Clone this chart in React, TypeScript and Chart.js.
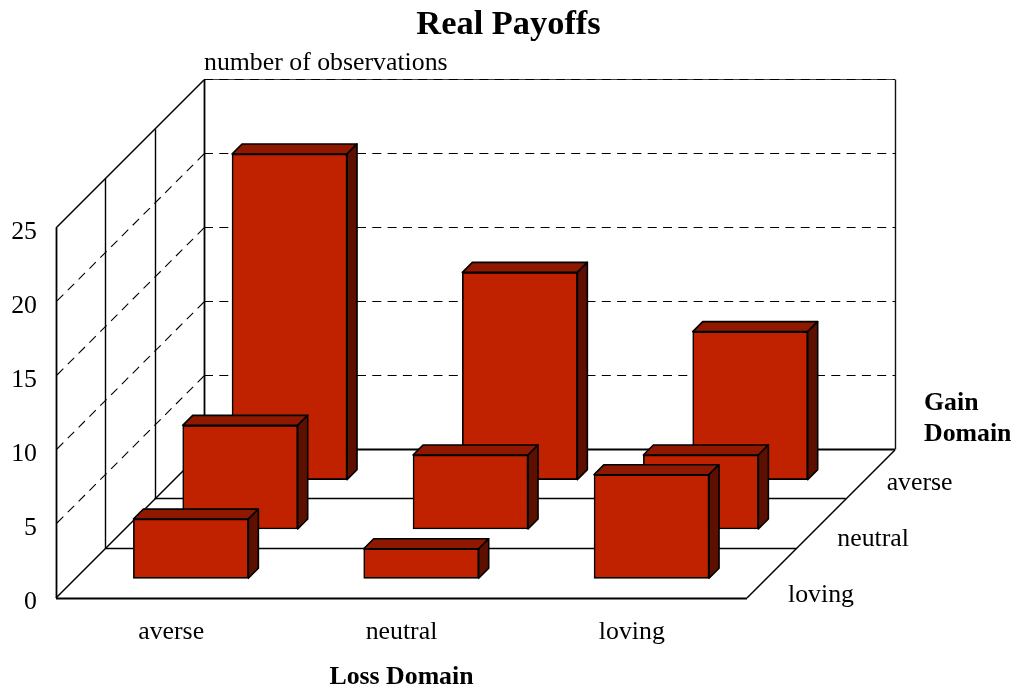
import React, { useEffect, useRef } from "react";
import { Chart, registerables } from "chart.js";

Chart.register(...registerables);

const lossCategories = ["averse", "neutral", "loving"];
const gainCategories = ["loving", "neutral", "averse"];
const lovingRow = [4, 2, 7];
const neutralRow = [7, 5, 5];
const averseRow = [22, 14, 10];
const yTicksMax = 25;
const yTickStep = 5;

const SERIF = "'Liberation Serif', 'Times New Roman', serif";
const FRONT = "#c02200";
const TOP = "#8f1800";
const SIDE = "#5e1000";
const ROW_DEPTH = 49.33;
const BAR_DEPTH = 10;
const ROW_GAP = 19.7;

const snap = (v: number) => Math.round(v) - 0.5;

function line(ctx: CanvasRenderingContext2D, x1: number, y1: number, x2: number, y2: number, w = 1, color = "#000", dash: number[] = []) {
  ctx.save();
  ctx.beginPath();
  ctx.lineWidth = w;
  ctx.strokeStyle = color;
  ctx.setLineDash(dash);
  ctx.moveTo(x1, y1);
  ctx.lineTo(x2, y2);
  ctx.stroke();
  ctx.restore();
}

function poly(ctx: CanvasRenderingContext2D, pts: number[][], fill: string) {
  ctx.beginPath();
  pts.forEach((p, i) => (i ? ctx.lineTo(p[0], p[1]) : ctx.moveTo(p[0], p[1])));
  ctx.closePath();
  ctx.fillStyle = fill;
  ctx.fill();
  ctx.lineWidth = 1.6;
  ctx.strokeStyle = "#000";
  ctx.lineJoin = "round";
  ctx.stroke();
}

const box3d = {
  id: "box3d",
  beforeDatasetsDraw(chart: any) {
    const { ctx, chartArea: a, scales } = chart;
    const y = scales.y;
    const total = ROW_DEPTH * 3;
    const dash = [9, 6.3];
    const y0 = y.getPixelForValue(0);
    const yT = y.getPixelForValue(yTicksMax);
    const topY = snap(yT - total);
    const backY = snap(y0 - total);
    // back wall
    line(ctx, a.left + total, topY, a.right + total, topY, 1, "#444");
    line(ctx, a.right + total + 0.5, backY, a.right + total + 0.5, topY, 1.4, "#111");
    for (let v = yTickStep; v <= yTicksMax; v += yTickStep) {
      const p = y.getPixelForValue(v);
      const py = snap(p - total);
      line(ctx, a.left + total, py, a.right + total, py, 1.1, "#000", dash);
      if (v < yTicksMax) line(ctx, a.left + total, p - total, a.left, p, 1.1, "#000", dash);
    }
    // floor row lines and left wall verticals
    for (let r = 1; r <= 2; r++) {
      const d = r * ROW_DEPTH;
      line(ctx, a.left + d, snap(y0 - d), a.right + d, snap(y0 - d), 1.4);
      line(ctx, Math.round(a.left + d) + 0.5, y0 - d, Math.round(a.left + d) + 0.5, yT - d, 1.4);
    }
    line(ctx, a.left + total, backY, a.right + total, backY, 1.8);
    line(ctx, Math.round(a.left + total) + 0.5, backY, Math.round(a.left + total) + 0.5, topY, 1.8);
    line(ctx, a.left, yT, a.left + total, yT - total, 1.5);
    line(ctx, a.left + 0.5, y0, a.left + 0.5, yT, 1.8);
    line(ctx, a.left, y0 + 0.5, a.right, y0 + 0.5, 1.8);
    line(ctx, a.left, y0, a.left + total, y0 - total, 1.5);
    line(ctx, a.right, y0, a.right + total, y0 - total, 1.5);
  },
  beforeDatasetDraw(chart: any, args: any) {
    const { ctx } = chart;
    const row = args.meta.controller.getDataset().row as number;
    const d = ROW_GAP + row * ROW_DEPTH;
    ctx.save();
    ctx.translate(d, -d);
    args.meta.data.forEach((el: any) => {
      const { x, y, base, width } = el.getProps(["x", "y", "base", "width"], true);
      const l = x - width / 2;
      const r = x + width / 2;
      poly(ctx, [[l, y], [l + BAR_DEPTH, y - BAR_DEPTH], [r + BAR_DEPTH, y - BAR_DEPTH], [r, y]], TOP);
      poly(ctx, [[r, y], [r + BAR_DEPTH, y - BAR_DEPTH], [r + BAR_DEPTH, base - BAR_DEPTH], [r, base]], SIDE);
    });
  },
  afterDatasetDraw(chart: any) {
    chart.ctx.restore();
  },
  afterDatasetsDraw(chart: any) {
    const { ctx, chartArea: a, scales } = chart;
    const y0 = scales.y.getPixelForValue(0);
    ctx.save();
    ctx.fillStyle = "#000";
    ctx.textBaseline = "middle";
    ctx.textAlign = "left";
    ctx.font = `25.8px ${SERIF}`;
    ctx.fillText("number of observations", a.left + 148, 63);
    gainCategories.forEach((label, i) => {
      ctx.fillText(label, a.right + 41 + i * ROW_DEPTH, y0 - 3 - i * 56);
    });
    ctx.font = `bold 25.8px ${SERIF}`;
    ctx.fillText("Gain", a.right + 177, 403);
    ctx.fillText("Domain", a.right + 177, 434);
    ctx.restore();
  },
};

export default function App() {
  const ref = useRef<HTMLCanvasElement>(null);
  useEffect(() => {
    const rows = [lovingRow, neutralRow, averseRow];
    const chart = new Chart(ref.current as HTMLCanvasElement, {
      type: "bar",
      data: {
        labels: lossCategories,
        datasets: rows.map((values, row) => ({
          label: gainCategories[row],
          data: values,
          row,
          grouped: false,
          clip: false,
          barThickness: 115,
          backgroundColor: FRONT,
          borderColor: "#000",
          borderWidth: 1.6,
          borderSkipped: false,
        })) as any,
      },
      options: {
        animation: false,
        responsive: false,
        layout: { padding: { right: 4 } },
        plugins: {
          legend: { display: false },
          tooltip: { enabled: false },
          title: {
            display: true,
            text: "Real Payoffs",
            color: "#000",
            font: { family: SERIF, size: 34.4, weight: "bold", lineHeight: 1.15 },
            padding: { top: 5, bottom: 183.4 },
          },
        },
        scales: {
          x: {
            type: "category",
            grid: { display: false },
            border: { display: false },
            ticks: { color: "#000", font: { family: SERIF, size: 25.8 }, padding: 11, maxRotation: 0 },
            title: {
              display: true,
              text: "Loss Domain",
              color: "#000",
              font: { family: SERIF, size: 25.8, weight: "bold" },
              padding: { top: 0, bottom: 0 },
            },
            afterFit: (s: any) => { s.height = 95; },
          },
          y: {
            min: 0,
            max: yTicksMax,
            grid: { display: false },
            border: { display: false },
            ticks: { stepSize: yTickStep, color: "#000", font: { family: SERIF, size: 25.8 }, padding: 11, labelOffset: 4 },
            afterFit: (s: any) => { s.width = 56; },
          },
          side: {
            type: "linear",
            position: "right",
            min: 0,
            max: 1,
            grid: { display: false },
            border: { display: false },
            ticks: { display: false },
            afterFit: (s: any) => { s.width = 270; },
          },
        },
      } as any,
      plugins: [box3d],
    });
    return () => chart.destroy();
  }, []);
  return (
    <canvas
      ref={ref}
      width={1021}
      height={693}
      style={{ position: "absolute", left: 0, top: 0, display: "block", background: "#fff" }}
    />
  );
}
